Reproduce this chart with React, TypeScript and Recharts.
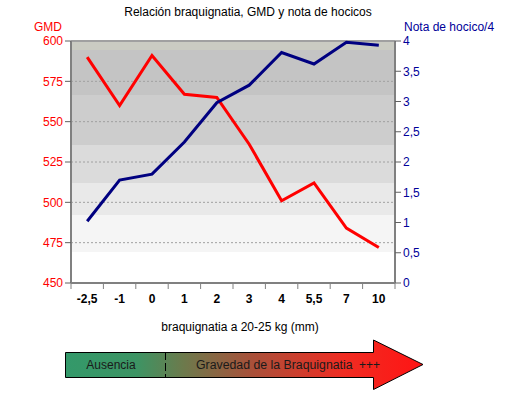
import { ComposedChart, Line, XAxis, YAxis, CartesianGrid, ReferenceLine } from "recharts";

// braquignatia a 20-25 kg (mm)
const categories = ["-2,5", "-1", "0", "1", "2", "3", "4", "5,5", "7", "10"];
const gmd = [590, 560, 591, 567, 565, 536, 501, 512, 484, 472];
const notaHocico = [1.02, 1.7, 1.8, 2.33, 2.98, 3.27, 3.81, 3.62, 3.98, 3.93];
const gmdTicks = [450, 475, 500, 525, 550, 575, 600];
const notaTicks = [0, 0.5, 1, 1.5, 2, 2.5, 3, 3.5, 4];

const data = categories.map((c, i) => ({ braq: c, gmd: gmd[i], nota: notaHocico[i] }));

const FONT = "'Liberation Sans', Arial, sans-serif";
const PLOT_LEFT = 71;
const PLOT_RIGHT = 395;
const PLOT_BOTTOM = 283;
const HALF_BAND = (PLOT_RIGHT - PLOT_LEFT) / categories.length / 2;

const comma = (v: number) => String(v).replace(".", ",");

// etiqueta del eje X con marcas entre categorías
const XTick = (props: any) => {
  const { x, y, payload, index } = props;
  const last = index === categories.length - 1;
  return (
    <g>
      <line x1={x - HALF_BAND} x2={x - HALF_BAND} y1={PLOT_BOTTOM} y2={PLOT_BOTTOM + 6} stroke="#808080" />
      {last && (
        <line x1={x + HALF_BAND} x2={x + HALF_BAND} y1={PLOT_BOTTOM} y2={PLOT_BOTTOM + 6} stroke="#808080" />
      )}
      <text x={x} y={y + 12} textAnchor="middle" fill="#000" fontSize={12} fontWeight="bold" fontFamily={FONT}>
        {payload.value}
      </text>
    </g>
  );
};

const App = () => {
  return (
    <div style={{ position: "absolute", left: 0, top: 0, width: 516, height: 395, background: "#fff" }}>
      <ComposedChart
        width={516}
        height={340}
        data={data}
        margin={{ top: 41, right: 0, left: 0, bottom: 0 }}
      >
        <defs>
          <linearGradient id="bgBands" x1="0" y1="0" x2="0" y2="1">
            <stop offset="0" stopColor="#cacbc2" />
            <stop offset="0.037" stopColor="#cacbc2" />
            <stop offset="0.037" stopColor="#c4c4c4" />
            <stop offset="0.223" stopColor="#c4c4c4" />
            <stop offset="0.223" stopColor="#cdcdcd" />
            <stop offset="0.43" stopColor="#cdcdcd" />
            <stop offset="0.43" stopColor="#dbdbdb" />
            <stop offset="0.587" stopColor="#dbdbdb" />
            <stop offset="0.587" stopColor="#e9e9e9" />
            <stop offset="0.719" stopColor="#e9e9e9" />
            <stop offset="0.719" stopColor="#f5f5f5" />
            <stop offset="0.872" stopColor="#f5f5f5" />
            <stop offset="0.872" stopColor="#ffffff" />
            <stop offset="1" stopColor="#ffffff" />
          </linearGradient>
        </defs>
        <CartesianGrid
          yAxisId="gmd"
          vertical={false}
          fill="url(#bgBands)"
          stroke="#a0a0a0"
          strokeDasharray="2 2"
        />
        <ReferenceLine yAxisId="gmd" y={600} stroke="#a0a0a0" strokeWidth={2} />
        <XAxis
          dataKey="braq"
          scale="band"
          height={57}
          interval={0}
          tickLine={false}
          tick={<XTick />}
          axisLine={{ stroke: "#808080", strokeWidth: 2 }}
        />
        <YAxis
          yAxisId="gmd"
          orientation="left"
          width={71}
          domain={[450, 600]}
          ticks={gmdTicks}
          interval={0}
          tick={{ fill: "#ff0000", fontSize: 12, fontFamily: FONT }}
          tickLine={{ stroke: "#606060" }}
          axisLine={{ stroke: "#808080", strokeWidth: 2 }}
        />
        <YAxis
          yAxisId="nota"
          orientation="right"
          width={121}
          domain={[0, 4]}
          ticks={notaTicks}
          interval={0}
          tickFormatter={comma}
          tick={{ fill: "#000099", fontSize: 12, fontFamily: FONT }}
          tickLine={{ stroke: "#606060" }}
          axisLine={{ stroke: "#808080", strokeWidth: 2 }}
        />
        <Line
          yAxisId="gmd"
          dataKey="gmd"
          stroke="#ff0000"
          strokeWidth={3}
          dot={false}
          type="linear"
          isAnimationActive={false}
        />
        <Line
          yAxisId="nota"
          dataKey="nota"
          stroke="#000080"
          strokeWidth={3}
          dot={false}
          type="linear"
          isAnimationActive={false}
        />
        <text x={248} y={16} textAnchor="middle" fontSize={12} fontFamily={FONT} fill="#000">
          Relación braquignatia, GMD y nota de hocicos
        </text>
        <text x={62} y={31} textAnchor="end" fontSize={12} fontFamily={FONT} fill="#ff0000">
          GMD
        </text>
        <text x={404} y={31} textAnchor="start" fontSize={12} fontFamily={FONT} fill="#000099">
          Nota de hocico/4
        </text>
        <text x={240} y={331} textAnchor="middle" fontSize={12} fontFamily={FONT} fill="#000">
          braquignatia a 20-25 kg (mm)
        </text>
      </ComposedChart>

      {/* flecha de gravedad */}
      <svg width={516} height={395} style={{ position: "absolute", left: 0, top: 0, pointerEvents: "none" }}>
        <defs>
          <linearGradient id="arrowGrad" gradientUnits="userSpaceOnUse" x1={65} y1={0} x2={423} y2={0}>
            <stop offset="0" stopColor="#33996a" />
            <stop offset="0.2" stopColor="#3d9464" />
            <stop offset="0.33" stopColor="#6c7a4c" />
            <stop offset="0.52" stopColor="#a8513a" />
            <stop offset="0.78" stopColor="#f02c22" />
            <stop offset="1" stopColor="#ff1414" />
          </linearGradient>
        </defs>
        <path
          d="M65.5,352.5 L373.5,352.5 L373.5,340 L423,364.5 L373.5,389.5 L373.5,377.5 L65.5,377.5 Z"
          fill="url(#arrowGrad)"
          stroke="#000"
          strokeWidth={1}
        />
        <line x1={165.5} x2={165.5} y1={352} y2={378} stroke="#000" strokeDasharray="8 3" />
        <text x={111} y={369} textAnchor="middle" fontSize={12} fontFamily={FONT} fill="#1a1a1a">
          Ausencia
        </text>
        <text x={196} y={369} textAnchor="start" fontSize={12.3} fontFamily={FONT} fill="#1a1a1a">
          Gravedad de la Braquignatia
        </text>
        <text x={359} y={369} textAnchor="start" fontSize={12} fontFamily={FONT} fill="#1a1a1a">
          +++
        </text>
      </svg>
    </div>
  );
};

export default App;
